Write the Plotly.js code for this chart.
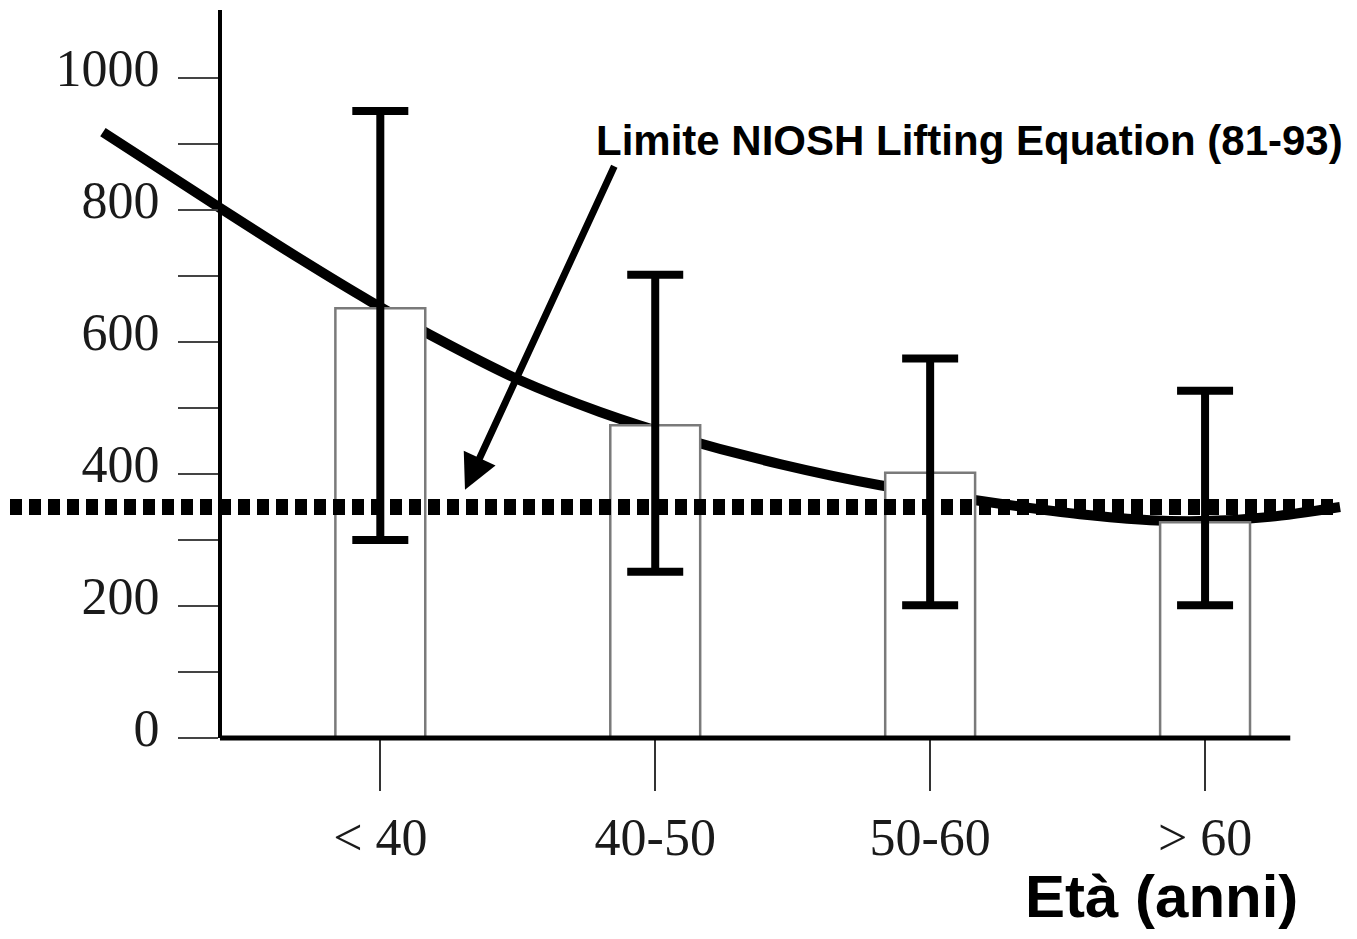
<!DOCTYPE html>
<html>
<head>
<meta charset="utf-8">
<script src="https://cdn.plot.ly/plotly-3.0.1.min.js"></script>
<style>html,body{margin:0;padding:0;background:#fff;}#chart{width:1357px;height:939px;}</style>
</head>
<body>
<div id="chart"></div>
<script>
// Data
const categories = ['< 40', '40-50', '50-60', '> 60'];
const meanValues = [651, 474, 402, 327];
const upperValues = [950, 702, 575, 526];
const lowerValues = [300, 252, 201, 201];
const nioshLimit = 350;
const curveX = [-1.009, -0.583, -0.292, -0.038, 0.253, 0.508, 0.799, 1.090, 1.454, 1.818, 2.254, 2.545, 2.800, 3.018, 3.236, 3.491];
const curveY = [918, 803, 726, 662, 595, 542, 494, 455, 415, 383, 355, 339, 330, 329, 335, 350];
const yTickVals = [0, 200, 400, 600, 800, 1000];
const yMinorTickVals = [100, 300, 500, 700, 900];
const annotationText = 'Limite NIOSH Lifting Equation (81-93)';
const xTitleText = 'Età (anni)';
const arrowTarget = {x: 0.308, y: 376};

const catX = categories.map((c, i) => i);

const curve = {
  x: curveX, y: curveY, type: 'scatter', mode: 'lines',
  line: {color: '#000', width: 10, shape: 'spline', smoothing: 0.8},
  xaxis: 'x', yaxis: 'y', hoverinfo: 'skip', showlegend: false
};

const bars = {
  x: catX, y: meanValues, type: 'bar', width: 0.327,
  marker: {color: '#fff', line: {color: '#7a7a7a', width: 2.5}},
  error_y: {
    type: 'data', symmetric: false,
    array: upperValues.map((u, i) => u - meanValues[i]),
    arrayminus: meanValues.map((m, i) => m - lowerValues[i]),
    color: '#000', thickness: 8, width: 28
  },
  xaxis: 'x', yaxis: 'y2', hoverinfo: 'skip', showlegend: false
};

const serif = 'Liberation Serif, Times New Roman, serif';
const sans = 'Liberation Sans, Arial, sans-serif';

const layout = {
  width: 1357, height: 939,
  margin: {l: 10, r: 12, t: 10, b: 201},
  paper_bgcolor: '#fff', plot_bgcolor: 'rgba(0,0,0,0)',
  showlegend: false,
  xaxis: {
    range: [-1.347, 3.509], showgrid: false, zeroline: false, showline: false,
    tickvals: catX, ticktext: categories,
    ticks: 'outside', ticklen: 52, tickwidth: 2, tickcolor: '#333',
    ticklabelstandoff: 2,
    tickfont: {family: serif, size: 52, color: '#1a1a1a'}
  },
  yaxis: {
    range: [0, 1103], showgrid: false, zeroline: false,
    anchor: 'free', position: 0.1573,
    showline: true, linecolor: '#000', linewidth: 4,
    tickvals: yTickVals,
    ticks: 'outside', ticklen: 40, tickwidth: 2.5, tickcolor: '#444',
    minor: {tickvals: yMinorTickVals, ticks: 'outside', ticklen: 40, tickwidth: 2.5, tickcolor: '#444', showgrid: false},
    ticklabelstandoff: 8, ticklabelshift: -10,
    tickfont: {family: serif, size: 52, color: '#1a1a1a'}
  },
  yaxis2: {
    range: [0, 1103], overlaying: 'y', anchor: 'free', position: 0.1573,
    showgrid: false, zeroline: false, showline: false, showticklabels: false, ticks: ''
  },
  shapes: [
    {type: 'line', xref: 'paper', yref: 'y', x0: 0, x1: 0.996, y0: nioshLimit, y1: nioshLimit,
     line: {color: '#000', width: 16, dash: '12px,7px'}, layer: 'above'},
    {type: 'line', xref: 'paper', yref: 'paper', x0: 0.1573, x1: 0.959, y0: 0, y1: 0,
     line: {color: '#000', width: 5}, layer: 'above'}
  ],
  annotations: [
    {text: annotationText, xref: 'paper', yref: 'paper', x: 1.0, y: 0.821,
     xanchor: 'right', yanchor: 'middle', showarrow: false,
     font: {family: sans, size: 42, color: '#000', weight: 'bold'}},
    {text: '', xref: 'x', yref: 'y', x: arrowTarget.x, y: arrowTarget.y,
     showarrow: true, ax: 150, ay: -325, arrowhead: 2, arrowsize: 1, arrowwidth: 7,
     arrowcolor: '#000', standoff: 0},
    {text: xTitleText, xref: 'paper', yref: 'paper', x: 0.966, y: -0.218,
     xanchor: 'right', yanchor: 'middle', showarrow: false,
     font: {family: sans, size: 60, color: '#000', weight: 'bold'}}
  ]
};

Plotly.newPlot('chart', [curve, bars], layout, {displayModeBar: false, staticPlot: true});
</script>
</body>
</html>
